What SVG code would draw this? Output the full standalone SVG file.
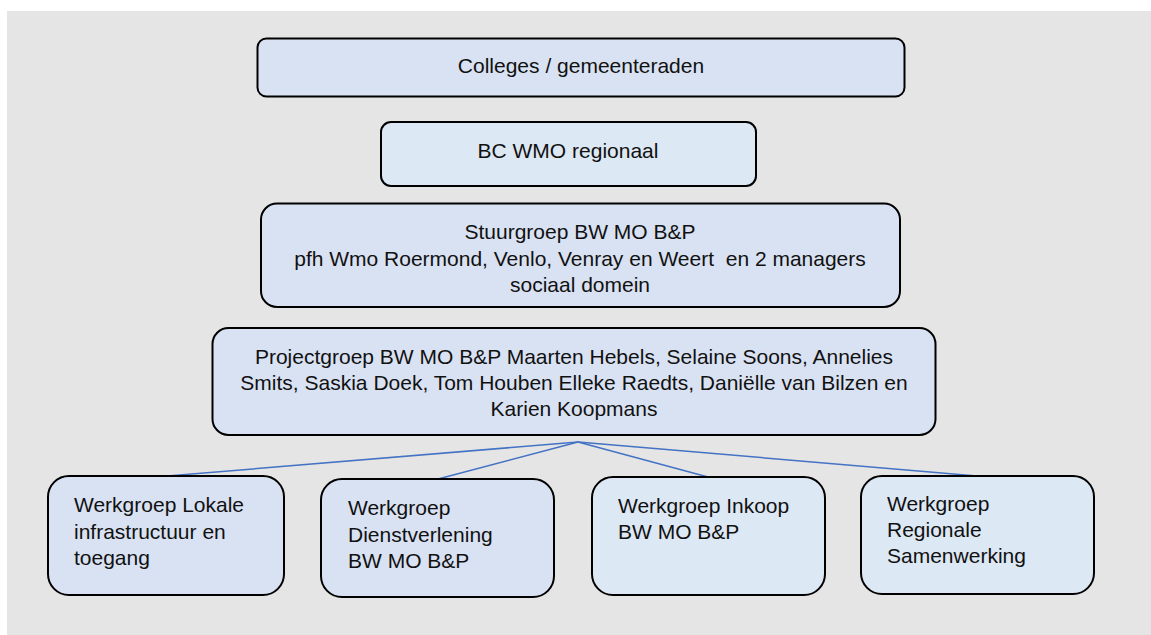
<svg xmlns="http://www.w3.org/2000/svg" width="1151" height="635" viewBox="0 0 1151 635">
<style>
.box{stroke:#000;stroke-width:2}
.a{fill:#d9e2f3}
.b{fill:#dde8f5}
text{font-family:"Liberation Sans",Arial,sans-serif;font-size:21px;fill:#111}
.c{text-anchor:middle}
.conn{stroke:#4472c4;stroke-width:1.5;fill:none}
</style>
<rect x="0" y="0" width="1151" height="635" fill="#fff"/>
<rect x="7" y="11" width="1144" height="624" fill="#e5e5e5"/>
<g id="colleges">
<rect class="box a" x="257.5" y="38.5" width="647" height="58" rx="9"/>
<text class="c" x="581" y="72.5">Colleges / gemeenteraden</text>
</g>
<g id="bc-wmo">
<rect class="box b" x="381" y="122" width="375" height="64" rx="10"/>
<text class="c" x="568" y="158">BC WMO regionaal</text>
</g>
<g id="stuurgroep">
<rect class="box a" x="261" y="203.5" width="639" height="103.5" rx="16"/>
<text class="c" x="580" y="239" xml:space="preserve">Stuurgroep BW MO B&amp;P</text>
<text class="c" x="580" y="266" xml:space="preserve">pfh Wmo Roermond, Venlo, Venray en Weert  en 2 managers</text>
<text class="c" x="580" y="292">sociaal domein</text>
</g>
<g id="projectgroep">
<rect class="box a" x="212.5" y="328" width="723" height="107" rx="16"/>
<text class="c" x="574" y="364">Projectgroep BW MO B&amp;P Maarten Hebels, Selaine Soons, Annelies</text>
<text class="c" x="574" y="390">Smits, Saskia Doek, Tom Houben Elleke Raedts, Daniëlle van Bilzen en</text>
<text class="c" x="574" y="416">Karien Koopmans</text>
</g>
<g id="connectors">
<line class="conn" x1="578" y1="442" x2="167" y2="476"/>
<line class="conn" x1="578" y1="442" x2="438" y2="479"/>
<line class="conn" x1="578" y1="442" x2="708" y2="477"/>
<line class="conn" x1="578" y1="442" x2="977" y2="476"/>
</g>
<g id="wg-lokale">
<rect class="box a" x="48" y="476" width="236" height="119" rx="21"/>
<text x="74" y="512">Werkgroep Lokale</text>
<text x="74" y="539">infrastructuur en</text>
<text x="74" y="565">toegang</text>
</g>
<g id="wg-dienstverlening">
<rect class="box a" x="321" y="479" width="233" height="118" rx="21"/>
<text x="348" y="515">Werkgroep</text>
<text x="348" y="542">Dienstverlening</text>
<text x="348" y="568">BW MO B&amp;P</text>
</g>
<g id="wg-inkoop">
<rect class="box b" x="592" y="477" width="233" height="118" rx="21"/>
<text x="618" y="513">Werkgroep Inkoop</text>
<text x="618" y="539">BW MO B&amp;P</text>
</g>
<g id="wg-regionale">
<rect class="box b" x="861" y="476" width="233" height="118" rx="21"/>
<text x="887" y="511">Werkgroep</text>
<text x="887" y="537">Regionale</text>
<text x="887" y="563">Samenwerking</text>
</g>
</svg>
